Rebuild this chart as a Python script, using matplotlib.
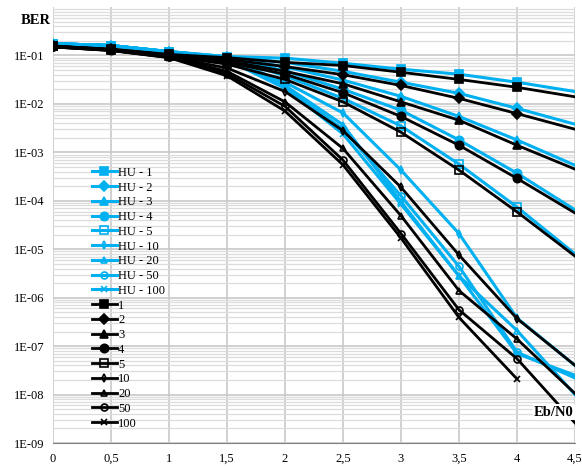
import matplotlib.pyplot as plt
import numpy as np
from matplotlib.ticker import FixedLocator, LogLocator, NullFormatter

plt.rcParams['font.family'] = ['Liberation Serif', 'DejaVu Serif']

# ======================= data =======================
ebn0 = [0, 0.5, 1, 1.5, 2, 2.5, 3, 3.5, 4, 4.5]
labels = ["1", "2", "3", "4", "5", "10", "20", "50", "100"]

ber_hu = [
    [0.175, 0.16, 0.12, 0.095, 0.088, 0.069, 0.052, 0.041, 0.028, 0.018],
    [0.175, 0.16, 0.12, 0.094, 0.072, 0.047, 0.028, 0.0165, 0.0081, 0.0038],
    [0.175, 0.16, 0.12, 0.092, 0.058, 0.031, 0.0143, 0.0055, 0.0018, 5.4e-4],
    [0.175, 0.16, 0.12, 0.09, 0.048, 0.02, 0.0074, 0.0018, 3.7e-4, 6.5e-5],
    [0.175, 0.16, 0.12, 0.088, 0.038, 0.013, 0.0035, 5.7e-4, 7.4e-5, 8e-6],
    [0.175, 0.16, 0.118, 0.085, 0.028, 0.0065, 4.3e-4, 2.1e-5, 3.8e-7, 4e-8],
    [0.175, 0.16, 0.117, 0.083, 0.024, 0.0037, 9.5e-5, 2.8e-6, 2.1e-7, 1e-8],
    [0.175, 0.16, 0.116, 0.082, 0.022, 0.003, 1.26e-4, 4.4e-6, 7.5e-8, 2.2e-8],
    [0.175, 0.16, 0.115, 0.081, 0.021, 0.0024, 8.5e-5, 2.8e-6, 7e-8, 2.5e-8],
]

ber_ref = [
    [0.155, 0.135, 0.105, 0.09, 0.072, 0.062, 0.045, 0.032, 0.022, 0.014],
    [0.155, 0.134, 0.103, 0.083, 0.059, 0.04, 0.024, 0.013, 0.0063, 0.003],
    [0.155, 0.133, 0.101, 0.077, 0.047, 0.026, 0.011, 0.0046, 0.0014, 4.5e-4],
    [0.155, 0.132, 0.099, 0.072, 0.041, 0.017, 0.0055, 0.0014, 2.9e-4, 5.6e-5],
    [0.155, 0.131, 0.097, 0.066, 0.032, 0.011, 0.0026, 4.3e-4, 5.9e-5, 7.2e-6],
    [0.152, 0.129, 0.094, 0.055, 0.018, 0.0028, 1.9e-4, 7.6e-6, 3.7e-7, 4e-8],
    [0.15, 0.128, 0.092, 0.047, 0.011, 0.0012, 4.9e-5, 1.4e-6, 1.4e-7, 1.05e-8],
    [0.15, 0.127, 0.091, 0.042, 0.0089, 6.9e-4, 2.1e-5, 5.6e-7, 5.5e-8, 2.6e-9],
    [0.15, 0.126, 0.09, 0.038, 0.0071, 5.5e-4, 1.7e-5, 3.9e-7, 2.1e-8, np.nan],
]

markers = ["s", "D", "^", "o", "s", "d", "^", "o", "x"]
filled = [True, True, True, True, False, False, False, False, True]
msizes = [6, 5, 6, 6, 6, 4, 5, 5, 5]

blue = "#00B0F0"
# markers on every point except the last one (cut by the plot edge)
mark_idx = list(range(len(ebn0) - 1))

fig = plt.figure(figsize=(5.82, 4.66), dpi=100)
ax = fig.add_axes([53 / 582, 23 / 466, 522 / 582, 436 / 466])

# blue (HU) curves
for i in range(len(labels)):
    ax.plot(ebn0, ber_hu[i], color=blue, lw=2.2, marker=markers[i], ms=msizes[i],
            mfc=blue if filled[i] else "none", mec=blue, mew=1.2,
            markevery=mark_idx, label="HU - " + labels[i], zorder=3)

# black curves
for i in range(len(labels)):
    ax.plot(ebn0, ber_ref[i], color="black", lw=2.0, marker=markers[i], ms=msizes[i],
            mfc="black" if filled[i] else "none", mec="black", mew=1.2,
            markevery=mark_idx, label=labels[i], zorder=4)

ax.set_yscale("log")
ax.set_ylim(1e-9, 1)
ax.set_xlim(0, 4.5)

ax.yaxis.set_major_locator(FixedLocator([10.0 ** k for k in range(-9, 0)]))
ax.set_yticklabels(["1E-%02d" % k for k in range(9, 0, -1)])
ax.yaxis.set_minor_locator(LogLocator(base=10, subs=np.arange(2, 10), numticks=20))
ax.yaxis.set_minor_formatter(NullFormatter())

xt = [0, 0.5, 1, 1.5, 2, 2.5, 3, 3.5, 4, 4.5]
ax.set_xticks(xt)
ax.set_xticklabels([("%g" % v).replace(".", ",") for v in xt])

ax.grid(True, which="major", axis="both", color="#c8c8c8", lw=1.2)
ax.grid(True, which="minor", axis="y", color="#dcdcdc", lw=0.9)
ax.set_axisbelow(True)

for s in ["top", "right", "left"]:
    ax.spines[s].set_visible(False)
ax.spines["bottom"].set_color("#808080")
ax.tick_params(axis="both", which="both", length=0, labelsize=9)
ax.tick_params(axis="x", pad=7)
ax.tick_params(axis="y", pad=6)

fig.text(36 / 582, 1 - 20 / 466, "BER", fontsize=10.5, fontweight="bold",
         ha="center", va="center")
ax.text(4.49, 3.2e-9, "Eb/N0", fontsize=10.5, fontweight="bold", ha="right",
        va="bottom", bbox=dict(facecolor="white", edgecolor="none", pad=1), zorder=6)

leg = ax.legend(loc="upper left", bbox_to_anchor=(0.065, 0.645), frameon=False,
                fontsize=9, labelspacing=0.22, handlelength=2.0, handletextpad=0.1,
                borderaxespad=0)
leg.set_zorder(7)

fig.savefig("out.png", dpi=100)
